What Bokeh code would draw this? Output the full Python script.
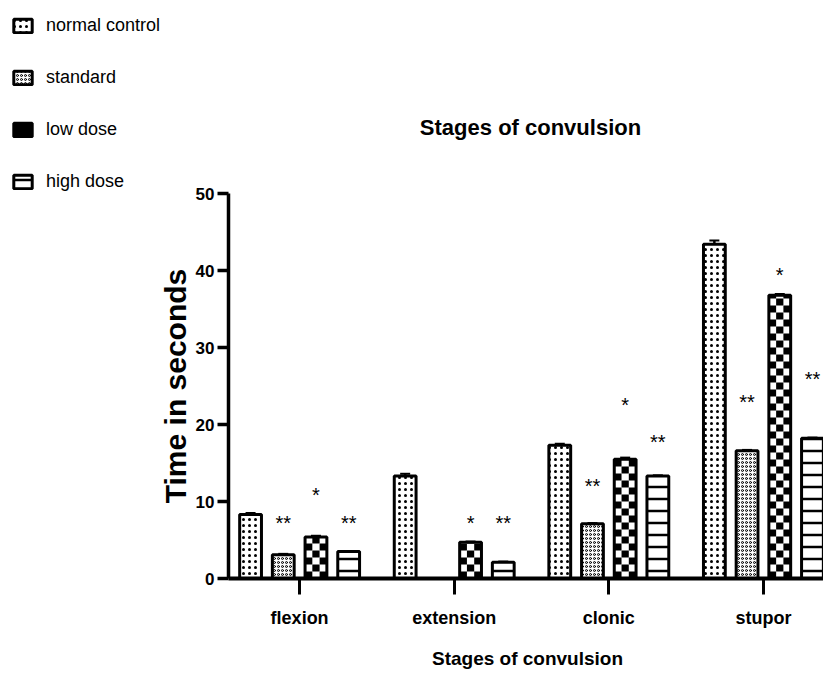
import numpy as np
from bokeh.plotting import figure
from bokeh.models import (Range1d, FixedTicker, Legend, LegendItem, Whisker,
                          ColumnDataSource, Label)
from bokeh.core.properties import value
from bokeh.embed import file_html
from bokeh.resources import INLINE

# ---------------- data ----------------
categories = ["flexion", "extension", "clonic", "stupor"]
series = ["normal control", "standard", "low dose", "high dose"]

normal_control = [8.3, 13.3, 17.3, 43.4]
standard = [3.1, np.nan, 7.1, 16.6]
low_dose = [5.4, 4.7, 15.5, 36.8]
high_dose = [3.5, 2.1, 13.3, 18.2]

normal_control_err = [0.2, 0.3, 0.2, 0.5]
standard_err = [0.1, 0.0, 0.1, 0.1]
low_dose_err = [0.15, 0.1, 0.2, 0.15]
high_dose_err = [0.05, 0.1, 0.1, 0.1]

# significance marks (text, height in seconds)
standard_sig = ["**", "", "**", "**"]
standard_sig_y = [7.3, np.nan, 12.2, 23.1]
low_dose_sig = ["*", "*", "*", "*"]
low_dose_sig_y = [11.0, 7.3, 22.6, 39.6]
high_dose_sig = ["**", "**", "**", "**"]
high_dose_sig_y = [7.3, 7.3, 17.9, 26.0]

y_ticks = [0, 10, 20, 30, 40, 50]
title_text = "Stages of convulsion"
x_title = "Stages of convulsion"
y_title = "Time in seconds"

# ---------------- layout constants (pixels) ----------------
FONT = "Liberation Sans"
W, H = 823, 670
AXIS_Y_PX = 578             # pixel row of the x axis (value 0)
AXIS_X_PX = 228             # pixel column of the y axis
PX_PER_Y = 7.7              # pixels per second
PX_PER_X = 154.6            # pixels per category
X0 = -0.46                  # data x of the y axis
Y_MAX_VIS = 50
TITLE_PX = (530, 127)
XTITLE_PX = (527, 658)

x_lo = X0 - AXIS_X_PX / PX_PER_X
x_hi = X0 + (W - AXIS_X_PX) / PX_PER_X
y_hi = AXIS_Y_PX / PX_PER_Y
y_lo = -(H - AXIS_Y_PX) / PX_PER_Y


def px_to_data(px, py):
    return X0 + (px - AXIS_X_PX) / PX_PER_X, (AXIS_Y_PX - py) / PX_PER_Y


p = figure(width=W, height=H, output_backend="svg", toolbar_location=None,
           title=None,
           x_range=Range1d(x_lo, x_hi), y_range=Range1d(y_lo, y_hi),
           min_border=0)
p.outline_line_color = None
p.xgrid.visible = False
p.ygrid.visible = False

pitch = 0.2115
bar_w = 0.141
idx = np.arange(len(categories))

styles = [
    dict(hatch_pattern="dot", hatch_scale=6, hatch_weight=1.6),
    dict(hatch_pattern="ring", hatch_scale=4, hatch_weight=1.0),
    None,
    dict(hatch_pattern="horizontal_line", hatch_scale=12, hatch_weight=2.5),
]
values = [normal_control, standard, low_dose, high_dose]
errors = [normal_control_err, standard_err, low_dose_err, high_dose_err]

items = []
for k, (name, vals, errs, st) in enumerate(zip(series, values, errors, styles)):
    xs = idx + (k - 1.5) * pitch
    vals = np.array(vals, dtype=float)
    errs = np.array(errs, dtype=float)
    src = ColumnDataSource(dict(x=xs, top=vals, upper=vals + errs, base=vals))
    rends = []
    if st is None:
        # checkerboard fill built from the bar heights
        cell_h = 7.0 / PX_PER_Y
        cw = bar_w / 3
        L, R, B, T = [], [], [], []
        for xc, v in zip(xs, vals):
            if np.isnan(v):
                continue
            nrows = int(np.ceil(v / cell_h))
            for r in range(nrows):
                for c in range(3):
                    if (r + c) % 2 == 0:
                        L.append(xc - bar_w / 2 + c * cw)
                        R.append(xc - bar_w / 2 + (c + 1) * cw)
                        B.append(r * cell_h)
                        T.append(min((r + 1) * cell_h, v))
        rends.append(p.quad(left=L, right=R, bottom=B, top=T,
                            fill_color="black", line_color=None))
        rends.append(p.vbar(x="x", top="top", width=bar_w, bottom=0, source=src,
                            fill_color=None, line_color="black", line_width=3))
    else:
        rends.append(p.vbar(x="x", top="top", width=bar_w, bottom=0, source=src,
                            fill_color="white", line_color="black", line_width=3,
                            hatch_color="black", **st))
    p.add_layout(Whisker(source=src, base="x", upper="upper", lower="base",
                         line_color="black", line_width=2.5,
                         upper_head=None, lower_head=None))
    p.dash(x=xs, y=vals + errs, size=10, line_width=2, color="black")
    items.append(LegendItem(label=name, renderers=rends))

# significance stars
for k, (txt, ys) in enumerate([(standard_sig, standard_sig_y),
                               (low_dose_sig, low_dose_sig_y),
                               (high_dose_sig, high_dose_sig_y)]):
    xs = idx + (k - 0.5) * pitch
    p.text(x=xs, y=ys, text=txt, text_align="center", text_baseline="middle",
           y_offset=1, text_font=value(FONT), text_font_size="20px",
           text_color="black")

# titles
tx, ty = px_to_data(*TITLE_PX)
p.add_layout(Label(x=tx, y=ty, text=title_text, text_align="center",
                   text_baseline="middle", text_font=FONT, text_font_size="22px",
                   text_font_style="bold", text_color="black"))
bx, by = px_to_data(*XTITLE_PX)
p.add_layout(Label(x=bx, y=by, text=x_title, text_align="center",
                   text_baseline="middle", text_font=FONT, text_font_size="19px",
                   text_font_style="bold", text_color="black"))

# legend at the top-left corner
legend = Legend(items=items, location=(11, 478), orientation="vertical",
                glyph_width=23, glyph_height=17, label_height=21, spacing=31,
                padding=2, margin=0, label_standoff=12,
                label_text_font=FONT, label_text_font_size="18px",
                label_text_color="black", label_text_baseline="middle",
                border_line_color=None, background_fill_alpha=0)
p.add_layout(legend)

# axes
xa = p.xaxis[0]
xa.fixed_location = 0
xa.ticker = FixedTicker(ticks=list(idx))
xa.bounds = (X0, x_hi)
xa.major_label_overrides = {int(i): c for i, c in zip(idx, categories)}
xa.minor_tick_line_color = None
xa.axis_line_width = 4
xa.axis_line_color = "black"
xa.major_tick_line_color = "black"
xa.major_tick_line_width = 3
xa.major_tick_out = 16
xa.major_tick_in = 0
xa.major_label_standoff = 13
xa.major_label_text_font = FONT
xa.major_label_text_font_size = "18px"
xa.major_label_text_font_style = "bold"
xa.major_label_text_color = "black"

ya = p.yaxis[0]
ya.fixed_location = X0
ya.bounds = (0, Y_MAX_VIS)
ya.ticker = FixedTicker(ticks=y_ticks)
ya.minor_tick_line_color = None
ya.axis_line_width = 3.5
ya.axis_line_color = "black"
ya.major_tick_line_color = "black"
ya.major_tick_line_width = 3.5
ya.major_tick_out = 11
ya.major_tick_in = 0
ya.major_label_standoff = 3
ya.major_label_text_font = FONT
ya.major_label_text_font_size = "17px"
ya.major_label_text_font_style = "bold"
ya.major_label_text_color = "black"
ya.axis_label = y_title
ya.axis_label_text_font = FONT
ya.axis_label_text_font_size = "30px"
ya.axis_label_text_font_style = "bold"
ya.axis_label_text_color = "black"
ya.axis_label_standoff = 1

open("out.html", "w").write(file_html(p, INLINE))
